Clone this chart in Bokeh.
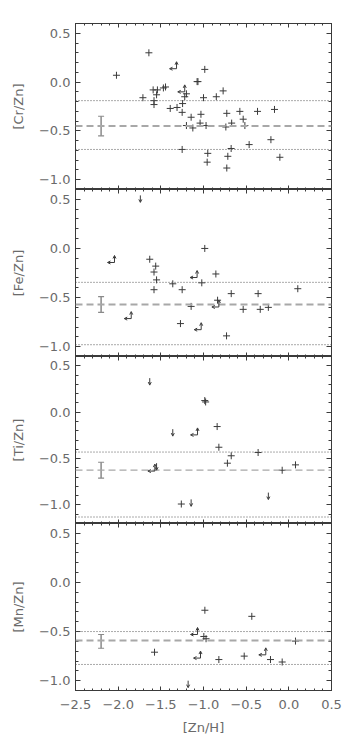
from bokeh.plotting import figure
from bokeh.layouts import column
from bokeh.models import (Range1d, FixedTicker, LinearAxis, Span, Arrow, OpenHead,
                          Whisker, TeeHead, ColumnDataSource, CustomLabelingPolicy)
from bokeh.embed import file_html
from bokeh.resources import INLINE

# ---------------- data ----------------
x_ticks = [-2.5, -2.0, -1.5, -1.0, -0.5, 0.0, 0.5]
x_tick_labels = ["−2.5", "−2.0", "−1.5", "−1.0", "−0.5", "0.0", "0.5"]
y_ticks = [-1.0, -0.5, 0.0, 0.5]
y_tick_labels = ["−1.0", "−0.5", "0.0", "0.5"]
x_title = "[Zn/H]"

# [Cr/Zn]
cr_x = [-2.02, -1.64, -1.71, -1.59, -1.54, -1.55, -1.58, -1.58, -1.47, -1.445, -1.39, -1.31,
        -1.25, -1.245, -1.22, -1.20, -1.20, -1.145, -1.125, -1.25, -1.075, -1.065, -1.03, -1.04,
        -1.00, -0.985, -0.97, -0.95, -0.957, -0.85, -0.77, -0.727, -0.738, -0.67, -0.676,
        -0.715, -0.727, -0.574, -0.535, -0.515, -0.465, -0.367, -0.168, -0.21, -0.105]
cr_y = [0.07, 0.30, -0.16, -0.08, -0.08, -0.13, -0.19, -0.23, -0.06, -0.05, -0.27, -0.26,
        -0.31, -0.22, -0.15, -0.12, -0.445, -0.36, -0.47, -0.69, 0.005, 0.005, -0.33, -0.42,
        -0.16, 0.13, -0.445, -0.73, -0.82, -0.15, -0.09, -0.32, -0.46, -0.42, -0.68,
        -0.76, -0.88, -0.30, -0.38, -0.445, -0.64, -0.30, -0.28, -0.59, -0.77]
cr_curl_x = [-1.316, -1.22]
cr_curl_y = [0.137, -0.10]
cr_down_x = []
cr_down_y = []
cr_mean, cr_lo, cr_hi = -0.45, -0.69, -0.19
cr_err = [-0.55, -0.35]

# [Fe/Zn]
fe_x = [-1.63, -1.56, -1.58, -1.55, -1.58, -1.36, -1.25, -1.145, -1.27, -1.02, -0.985, -0.855,
        -0.835, -0.73, -0.675, -0.535, -0.36, -0.335, -0.24, 0.105]
fe_y = [-0.11, -0.18, -0.24, -0.32, -0.42, -0.36, -0.42, -0.59, -0.765, -0.35, 0.00, -0.26,
        -0.527, -0.89, -0.46, -0.62, -0.46, -0.62, -0.60, -0.41]
fe_curl_x = [-2.043, -1.847, -1.075, -1.027, -0.82]
fe_curl_y = [-0.143, -0.714, -0.296, -0.827, -0.596]
fe_down_x = [-1.74]
fe_down_y = [0.54]
fe_mean, fe_lo, fe_hi = -0.57, -0.98, -0.345
fe_err = [-0.65, -0.49]

# [Ti/Zn]
ti_x = [-0.985, -0.975, -0.84, -0.82, -0.675, -0.72, -0.36, -0.078, 0.078, -1.26]
ti_y = [0.125, 0.11, -0.155, -0.378, -0.47, -0.55, -0.435, -0.626, -0.568, -0.99]
ti_curl_x = [-1.07, -1.57]
ti_curl_y = [-0.245, -0.635]
ti_down_x = [-1.63, -1.36, -1.55, -1.145, -0.24]
ti_down_y = [0.367, -0.183, -0.55, -0.94, -0.867]
ti_mean, ti_lo, ti_hi = -0.625, -1.13, -0.43
ti_err = [-0.71, -0.54]

# [Mn/Zn]
mn_x = [-0.984, -0.434, -0.996, -0.97, -1.574, -0.82, -0.523, -0.215, -0.078, 0.078]
mn_y = [-0.283, -0.345, -0.55, -0.573, -0.71, -0.785, -0.75, -0.785, -0.81, -0.597]
mn_curl_x = [-1.07, -1.035, -0.27]
mn_curl_y = [-0.53, -0.77, -0.737]
mn_down_x = [-1.18]
mn_down_y = [-1.0]
mn_mean, mn_lo, mn_hi = -0.59, -0.835, -0.5
mn_err = [-0.67, -0.53]

err_x = -2.2

# ---------------- style ----------------
FONT = "DejaVu Sans"
FRAME_W = 256
INK = "#3a3a3a"
TXT = "#6a6a6a"
X_RANGE = (-2.5, 0.5)
x_minor = [round(-2.5 + 0.1 * i, 2) for i in range(31)]
y_minor = [round(-1.2 + 0.1 * i, 2) for i in range(19)]

HIDE_ALL = "const a = Array.from(indices); for (const i of a) { indices.unset(i) } return indices"


def style_axis(ax, show_labels, labels_map, tick_in, minor_in):
    ax.axis_line_color = INK
    ax.axis_line_width = 1
    ax.major_tick_line_color = INK
    ax.minor_tick_line_color = INK
    ax.major_tick_in = tick_in
    ax.major_tick_out = 0
    ax.minor_tick_in = minor_in
    ax.minor_tick_out = 0
    ax.major_label_text_font = FONT
    ax.major_label_text_color = TXT
    ax.axis_label_text_font = FONT
    ax.axis_label_text_color = TXT
    ax.axis_label_text_font_style = "normal"
    ax.axis_label_text_font_size = "13px"
    if show_labels:
        ax.major_label_text_font_size = "13px"
        ax.major_label_overrides = labels_map
    else:
        ax.major_label_text_font_size = "0px"
        ax.major_label_standoff = 0
        ax.major_label_policy = CustomLabelingPolicy(code=HIDE_ALL)


def make_panel(ylabel, px, py, cx, cy, dx_, dy_, mean, lo, hi, err, yr, frame_h,
               first, last, dash_w=2.0):
    y0, y1 = yr
    p = figure(frame_width=FRAME_W, frame_height=frame_h, output_backend="svg",
               toolbar_location=None, x_range=Range1d(*X_RANGE), y_range=Range1d(y0, y1),
               x_axis_location=None, y_axis_location=None,
               min_border_left=75, min_border_right=23,
               min_border_top=23 if first else 0, min_border_bottom=48 if last else 0)
    p.grid.visible = False
    p.outline_line_color = INK
    p.background_fill_color = "white"
    p.border_fill_color = "white"

    xt = FixedTicker(ticks=x_ticks, minor_ticks=x_minor)
    yt = FixedTicker(ticks=y_ticks, minor_ticks=y_minor)
    xmap = dict(zip(x_ticks, x_tick_labels))
    ymap = dict(zip(y_ticks, y_tick_labels))

    left = LinearAxis(ticker=yt, axis_label=ylabel)
    style_axis(left, True, ymap, 5, 3)
    left.major_label_standoff = 5
    left.axis_label_standoff = 10
    p.add_layout(left, "left")
    right = LinearAxis(ticker=yt)
    style_axis(right, False, ymap, 5, 3)
    p.add_layout(right, "right")

    bottom = LinearAxis(ticker=xt, axis_label=x_title if last else None)
    style_axis(bottom, last, xmap, 4, 2)
    if last:
        bottom.major_label_standoff = 9
        bottom.axis_label_standoff = 8
    p.add_layout(bottom, "below")
    top = LinearAxis(ticker=xt)
    style_axis(top, False, xmap, 4, 2)
    p.add_layout(top, "above")

    # reference lines
    p.add_layout(Span(location=mean, dimension="width", line_color="#a8a8a8",
                      line_width=dash_w, line_dash="7 4"))
    for v in (lo, hi):
        p.add_layout(Span(location=v, dimension="width", line_color="#555555",
                          line_width=1, line_dash="1 2"))

    # typical error bar
    esrc = ColumnDataSource(dict(x=[err_x], lo=[err[0]], hi=[err[1]]))
    p.add_layout(Whisker(base="x", lower="lo", upper="hi", source=esrc, dimension="height",
                         line_color="#8a8a8a", line_width=1.5,
                         upper_head=TeeHead(size=6, line_color="#8a8a8a", line_width=1.2),
                         lower_head=TeeHead(size=6, line_color="#8a8a8a", line_width=1.2)))

    # detections
    p.scatter(px, py, marker="cross", size=7, line_color=INK, line_width=1)

    ypp = frame_h / (y1 - y0)
    xpp = FRAME_W / (X_RANGE[1] - X_RANGE[0])
    L = 7.0

    # upper limits (down arrows)
    if dx_:
        dsrc = ColumnDataSource(dict(x0=dx_, y0=dy_, x1=dx_, y1=[v - L / ypp for v in dy_]))
        p.add_layout(Arrow(x_start="x0", y_start="y0", x_end="x1", y_end="y1", source=dsrc,
                           line_color=INK, line_width=1,
                           end=OpenHead(size=3, line_color=INK, line_width=1)))
    # limits in both (left + up arrows)
    if cx:
        hsrc = ColumnDataSource(dict(x0=cx, y0=cy, x1=[v - L / xpp for v in cx], y1=cy))
        p.add_layout(Arrow(x_start="x0", y_start="y0", x_end="x1", y_end="y1", source=hsrc,
                           line_color=INK, line_width=1,
                           end=OpenHead(size=3, line_color=INK, line_width=1)))
        vsrc = ColumnDataSource(dict(x0=cx, y0=cy, x1=cx, y1=[v + L / ypp for v in cy]))
        p.add_layout(Arrow(x_start="x0", y_start="y0", x_end="x1", y_end="y1", source=vsrc,
                           line_color=INK, line_width=1,
                           end=OpenHead(size=3, line_color=INK, line_width=1)))
    return p


p1 = make_panel("[Cr/Zn]", cr_x, cr_y, cr_curl_x, cr_curl_y, cr_down_x, cr_down_y,
                cr_mean, cr_lo, cr_hi, cr_err, (-1.1, 0.6), 166, True, False)
p2 = make_panel("[Fe/Zn]", fe_x, fe_y, fe_curl_x, fe_curl_y, fe_down_x, fe_down_y,
                fe_mean, fe_lo, fe_hi, fe_err, (-1.1, 0.6), 167, False, False)
p3 = make_panel("[Ti/Zn]", ti_x, ti_y, ti_curl_x, ti_curl_y, ti_down_x, ti_down_y,
                ti_mean, ti_lo, ti_hi, ti_err, (-1.2, 0.6), 167, False, False, dash_w=1.3)
p4 = make_panel("[Mn/Zn]", mn_x, mn_y, mn_curl_x, mn_curl_y, mn_down_x, mn_down_y,
                mn_mean, mn_lo, mn_hi, mn_err, (-1.1, 0.6), 167, False, True)

layout = column(p1, p2, p3, p4, spacing=0)
open("out.html", "w").write(file_html(layout, INLINE))
